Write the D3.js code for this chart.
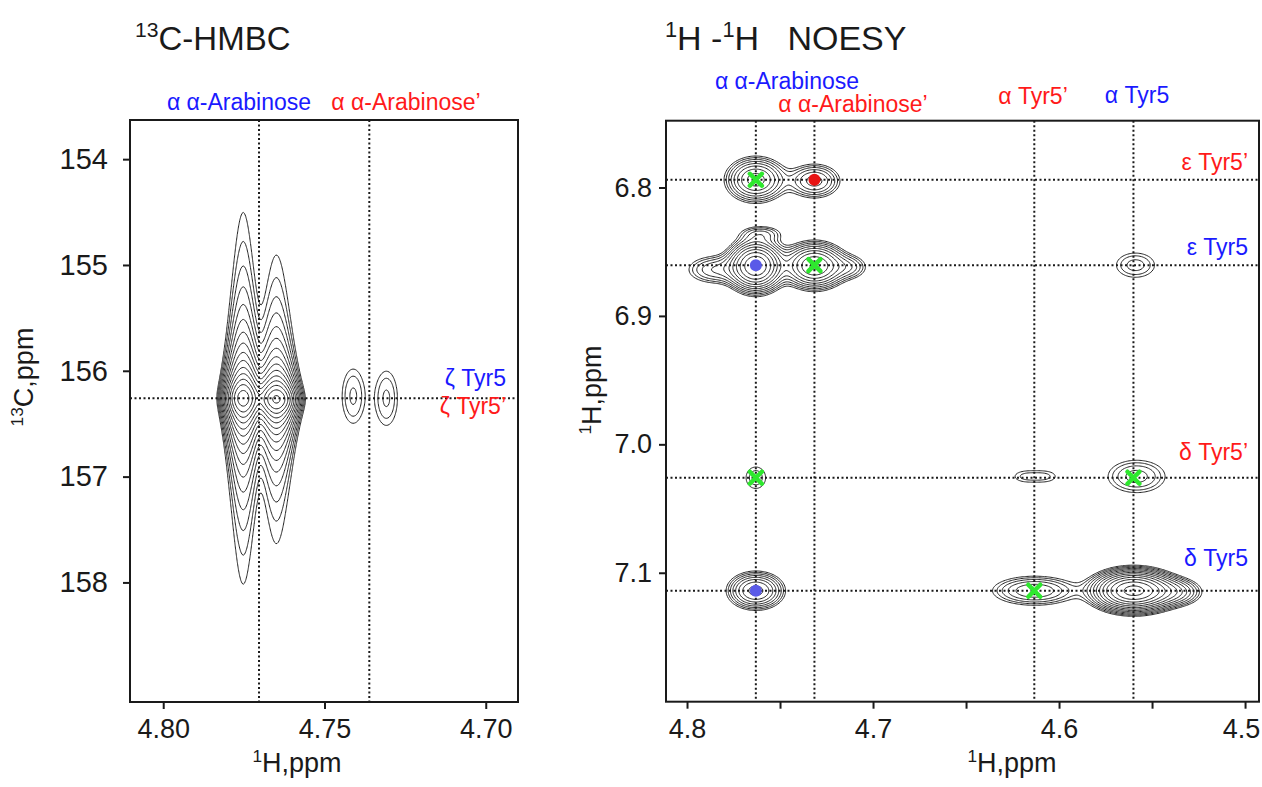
<!DOCTYPE html>
<html><head><meta charset="utf-8">
<script src="https://cdn.jsdelivr.net/npm/d3@7"></script>
<style>
html,body{margin:0;padding:0;background:#fff;}
svg{display:block;font-family:"Liberation Sans",Arial,sans-serif;}
text{white-space:pre;}
</style></head>
<body><svg id="chart" width="1262" height="787"></svg>
<script>
// ================= DATA =================
// ---- 13C-HMBC panel ----
const hmbcXDomain = [4.8103, 4.690];          // 1H ppm
const hmbcYDomain = [153.63, 159.13];         // 13C ppm
const hmbcXTicks = [4.80, 4.75, 4.70];
const hmbcYTicks = [154, 155, 156, 157, 158];
const hmbcVLines = [4.7703, 4.7361];
const hmbcHLines = [156.26];
// peaks: 1H shift, 13C shift, 1H width, 13C width, amplitude (x lowest level), 13C lineshape
const hmbcPeaks = [
  {x: 4.7752, y: 156.26, wx: 0.0026, wy: 0.150, amp: 138, shape: "L"},
  {x: 4.7649, y: 156.27, wx: 0.0029, wy: 0.125, amp: 120, shape: "L"},
  {x: 4.7411, y: 156.24, wx: 0.0028, wy: 0.210, amp: 2.1, shape: "G"},
  {x: 4.7308, y: 156.26, wx: 0.0028, wy: 0.210, amp: 2.1, shape: "G"}
];
const hmbcLevelFactor = 1.4, hmbcLevelCount = 16;

// ---- 1H-1H NOESY panel ----
const noesyXDomain = [4.8113, 4.4925];
const noesyYDomain = [6.748, 7.2004];
const noesyXTicks = [4.80, 4.75, 4.70, 4.65, 4.60, 4.55, 4.50];
const noesyXTickLabels = [4.8, 4.7, 4.6, 4.5];
const noesyYTicks = [6.8, 6.9, 7.0, 7.1];
const noesyVLines = [4.763, 4.7315, 4.6133, 4.560];
const noesyHLines = [6.794, 6.8605, 7.026, 7.114];
const noesyPeaks = [
  {x: 4.7630, y: 6.7940, wx: 0.0086, wy: 0.0093, amp: 7.2},
  {x: 4.7315, y: 6.7950, wx: 0.0081, wy: 0.0078, amp: 4.2},
  {x: 4.7630, y: 6.8610, wx: 0.0075, wy: 0.0100, amp: 18},
  {x: 4.7315, y: 6.8610, wx: 0.0086, wy: 0.0092, amp: 11},
  {x: 4.7850, y: 6.8640, wx: 0.0097, wy: 0.0070, amp: 2.8},
  {x: 4.7125, y: 6.8620, wx: 0.0064, wy: 0.0060, amp: 2.2},
  {x: 4.7600, y: 6.8360, wx: 0.0075, wy: 0.0042, amp: 2.0},
  {x: 4.5589, y: 6.8605, wx: 0.0089, wy: 0.0082, amp: 1.93},
  {x: 4.7630, y: 7.0260, wx: 0.0054, wy: 0.0086, amp: 1.6},
  {x: 4.6190, y: 7.0250, wx: 0.0064, wy: 0.0047, amp: 1.25},
  {x: 4.6067, y: 7.0250, wx: 0.0064, wy: 0.0047, amp: 1.25},
  {x: 4.5583, y: 7.0250, wx: 0.0113, wy: 0.0093, amp: 2.5},
  {x: 4.7630, y: 7.1140, wx: 0.0081, wy: 0.0078, amp: 7},
  {x: 4.6131, y: 7.1140, wx: 0.0140, wy: 0.0070, amp: 3.7},
  {x: 4.5600, y: 7.1140, wx: 0.0107, wy: 0.0078, amp: 26},
  {x: 4.5379, y: 7.1150, wx: 0.0086, wy: 0.0062, amp: 4}
];
const noesyLevelFactor = 1.3, noesyLevelCount = 14;
const crossMarks = [[4.763, 6.794], [4.7315, 6.8605], [4.763, 7.026], [4.560, 7.026], [4.6133, 7.114]];
const redDots = [[4.7315, 6.794]];
const blueDots = [[4.763, 6.8605], [4.763, 7.114]];

// ---- text ----
const BLUE = "#1a1aff", RED = "#ff1a1a";
const hmbcTopLabels = ["α α-Arabinose", "α α-Arabinose’"];
const hmbcSideLabels = ["ζ Tyr5", "ζ Tyr5’"];
const noesyTopLabels = ["α α-Arabinose", "α α-Arabinose’", "α Tyr5’", "α Tyr5"];
const noesySideLabels = ["ε Tyr5’", "ε Tyr5", "δ Tyr5’", "δ Tyr5"];

// ================= DRAWING =================
const svg = d3.select("#chart");
const INK = "#1a1a1a";

function contourPanel(g, peaks, xd, yd, xScale, yScale, factor, count, step, clipId) {
  const w = Math.abs(xScale.range()[1] - xScale.range()[0]);
  const h = Math.abs(yScale.range()[1] - yScale.range()[0]);
  const nx = Math.round(w / step), ny = Math.round(h / step);
  const gx = d3.scaleLinear().domain([0, nx - 1]).range(xd);
  const gy = d3.scaleLinear().domain([0, ny - 1]).range(yd);
  const values = new Float64Array(nx * ny);
  for (let j = 0; j < ny; j++) {
    const y = gy(j);
    for (let i = 0; i < nx; i++) {
      const x = gx(i);
      let v = 0;
      for (const p of peaks) {
        const dx = (x - p.x) / p.wx, dy = (y - p.y) / p.wy;
        if (Math.abs(dx) > 8) continue;
        const fy = p.shape === "L" ? 1 / (1 + dy * dy) : Math.exp(-0.5 * dy * dy);
        v += p.amp * Math.exp(-0.5 * dx * dx) * fy;
      }
      values[j * nx + i] = v;
    }
  }
  const thresholds = d3.range(count).map(k => Math.pow(factor, k));
  const contours = d3.contours().size([nx, ny]).thresholds(thresholds)(values);
  const proj = d3.geoTransform({
    point(px, py) { this.stream.point(xScale(gx(px - 0.5)), yScale(gy(py - 0.5))); }
  });
  const path = d3.geoPath(proj);
  g.append("g").attr("clip-path", `url(#${clipId})`)
    .selectAll("path").data(contours).join("path")
    .attr("d", path).attr("fill", "none")
    .attr("stroke", "#222").attr("stroke-width", 1).attr("stroke-linejoin", "round");
}

function frame(xScale, yScale, clipId) {
  const [x0, x1] = xScale.range(), [y0, y1] = yScale.range();
  svg.append("clipPath").attr("id", clipId).append("rect")
    .attr("x", x0).attr("y", y0).attr("width", x1 - x0).attr("height", y1 - y0);
}

function dotted(g, xScale, yScale, vlines, hlines) {
  const [x0, x1] = xScale.range(), [y0, y1] = yScale.range();
  g.selectAll(null).data(vlines).join("line")
    .attr("x1", d => xScale(d)).attr("x2", d => xScale(d)).attr("y1", y0).attr("y2", y1)
    .attr("stroke", INK).attr("stroke-width", 2).attr("stroke-dasharray", "2,2.5");
  g.selectAll(null).data(hlines).join("line")
    .attr("y1", d => yScale(d)).attr("y2", d => yScale(d)).attr("x1", x0).attr("x2", x1)
    .attr("stroke", INK).attr("stroke-width", 2).attr("stroke-dasharray", "2,2.5");
}

function axes(g, xScale, yScale, xTicks, xFmt, yTicks, yFmt, yPad, yFont) {
  const xa = d3.axisBottom(xScale).tickValues(xTicks).tickSize(7).tickPadding(10).tickFormat(xFmt);
  const ya = d3.axisLeft(yScale).tickValues(yTicks).tickSize(7).tickPadding(yPad).tickFormat(yFmt);
  const y1 = yScale.range()[1], x0 = xScale.range()[0];
  const gx = g.append("g").attr("transform", `translate(0,${y1})`).call(xa);
  const gy = g.append("g").attr("transform", `translate(${x0},0)`).call(ya);
  [gx, gy].forEach(a => {
    a.select(".domain").remove();
    a.selectAll(".tick line").attr("stroke", INK).attr("stroke-width", 2);
    a.selectAll(".tick text").attr("fill", INK).attr("font-size", 27)
      .attr("font-family", "Liberation Sans, Arial, sans-serif");
  });
  gy.selectAll(".tick text").attr("font-size", yFont);
  gx.selectAll(".tick text").attr("dy", "0.71em");
  const [xa0, xa1] = xScale.range(), [ya0, ya1] = yScale.range();
  g.append("rect").attr("x", xa0).attr("y", ya0).attr("width", xa1 - xa0).attr("height", ya1 - ya0)
    .attr("fill", "none").attr("stroke", INK).attr("stroke-width", 2);
  return gx;
}

function supText(g, x, y, parts, size, anchor, rotate) {
  const t = g.append("text").attr("x", x).attr("y", y).attr("font-size", size)
    .attr("fill", INK).attr("text-anchor", anchor || "start");
  if (rotate) t.attr("transform", `rotate(-90,${x},${y})`);
  parts.forEach(p => {
    if (p.sup) {
      t.append("tspan").attr("font-size", size * 0.64).attr("dy", -size * 0.38).text(p.t);
    } else {
      t.append("tspan").attr("dy", p.after ? size * 0.38 : 0).text(p.t);
    }
  });
  return t;
}

function label(g, x, y, text, color, anchor) {
  g.append("text").attr("x", x).attr("y", y).attr("font-size", 23)
    .attr("fill", color).attr("text-anchor", anchor).text(text);
}

// ---------- HMBC ----------
const hx = d3.scaleLinear().domain(hmbcXDomain).range([130, 518]);
const hy = d3.scaleLinear().domain(hmbcYDomain).range([120, 702]);
const gH = svg.append("g");
frame(hx, hy, "clipH");
contourPanel(gH, hmbcPeaks, hmbcXDomain, hmbcYDomain, hx, hy, hmbcLevelFactor, hmbcLevelCount, 1.2, "clipH");
dotted(gH, hx, hy, hmbcVLines, hmbcHLines);
axes(gH, hx, hy, hmbcXTicks, d3.format(".2f"), hmbcYTicks, d3.format("d"), 15, 29);

supText(svg, 135, 50, [{t: "13", sup: true}, {t: "C-HMBC", after: true}], 33);
supText(svg, 297, 772, [{t: "1", sup: true}, {t: "H,ppm", after: true}], 27, "middle");
supText(svg, 33, 377, [{t: "13", sup: true}, {t: "C,ppm", after: true}], 27, "middle", true);
label(svg, 239, 110, hmbcTopLabels[0], BLUE, "middle");
label(svg, 406, 110, hmbcTopLabels[1], RED, "middle");
label(svg, 506, 386, hmbcSideLabels[0], BLUE, "end");
label(svg, 506, 414, hmbcSideLabels[1], RED, "end");

// ---------- NOESY ----------
const nx = d3.scaleLinear().domain(noesyXDomain).range([666, 1259]);
const ny = d3.scaleLinear().domain(noesyYDomain).range([120.7, 701.7]);
const gN = svg.append("g");
frame(nx, ny, "clipN");
contourPanel(gN, noesyPeaks, noesyXDomain, noesyYDomain, nx, ny, noesyLevelFactor, noesyLevelCount, 1.2, "clipN");
dotted(gN, nx, ny, noesyVLines, noesyHLines);
const gNx = axes(gN, nx, ny, noesyXTicks,
  d => noesyXTickLabels.some(v => Math.abs(v - d) < 1e-9) ? d3.format(".1f")(d) : "",
  noesyYTicks, d3.format(".1f"), 7, 27);
gNx.selectAll(".tick text").filter(d => Math.abs(d - 4.5) < 1e-9).attr("dx", -4);

// markers
gN.selectAll(null).data(redDots).join("circle")
  .attr("cx", d => nx(d[0])).attr("cy", d => ny(d[1])).attr("r", 6).attr("fill", "#e81414");
gN.selectAll(null).data(blueDots).join("circle")
  .attr("cx", d => nx(d[0])).attr("cy", d => ny(d[1])).attr("r", 6).attr("fill", "#5a5ae8");
const cross = gN.selectAll(null).data(crossMarks).join("g")
  .attr("transform", d => `translate(${nx(d[0])},${ny(d[1])})`);
cross.append("path").attr("d", "M-6,-6L6,6M-6,6L6,-6")
  .attr("stroke", "#2ee82e").attr("stroke-width", 4.5).attr("stroke-linecap", "round");

supText(svg, 665, 50, [{t: "1", sup: true}, {t: "H -", after: true}, {t: "1", sup: true}, {t: "H   NOESY", after: true}], 34);
supText(svg, 1012, 772, [{t: "1", sup: true}, {t: "H,ppm", after: true}], 27, "middle");
supText(svg, 601, 390, [{t: "1", sup: true}, {t: "H,ppm", after: true}], 27, "middle", true);
label(svg, 787, 89, noesyTopLabels[0], BLUE, "middle");
label(svg, 853, 112, noesyTopLabels[1], RED, "middle");
label(svg, 1033, 104, noesyTopLabels[2], RED, "middle");
label(svg, 1137, 103, noesyTopLabels[3], BLUE, "middle");
label(svg, 1248, 170, noesySideLabels[0], RED, "end");
label(svg, 1248, 255, noesySideLabels[1], BLUE, "end");
label(svg, 1248, 460, noesySideLabels[2], RED, "end");
label(svg, 1248, 566, noesySideLabels[3], BLUE, "end");
</script></body></html>
